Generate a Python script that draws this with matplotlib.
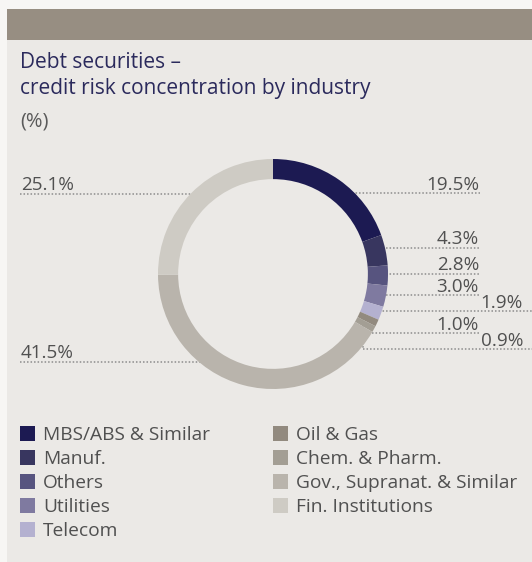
import matplotlib.pyplot as plt
from matplotlib.patches import Rectangle

plt.rcParams['font.family'] = ['Open Sans', 'DejaVu Sans']

W, H = 532, 562

industries = ['MBS/ABS & Similar', 'Manuf.', 'Others', 'Utilities', 'Telecom',
              'Oil & Gas', 'Chem. & Pharm.', 'Gov., Supranat. & Similar', 'Fin. Institutions']
shares = [19.5, 4.3, 2.8, 3.0, 1.9, 1.0, 0.9, 41.5, 25.1]
colors = ['#1c1a52', '#38365f', '#57547f', '#7f7aa0', '#b4b1d0',
          '#928a7f', '#a39e94', '#b9b4ac', '#cecbc4']

panel_bg = '#ebe9e6'
text_grey = '#505050'
dot_grey = '#8c8c8c'

fig = plt.figure(figsize=(W / 100, H / 100), dpi=100)
fig.patch.set_facecolor('#f7f6f4')

# full-figure overlay in pixel units (y grows downward)
bg = fig.add_axes([0, 0, 1, 1])
bg.set_xlim(0, W)
bg.set_ylim(H, 0)
bg.axis('off')
bg.add_patch(Rectangle((7, 9), W - 7, H - 9, color=panel_bg, lw=0, zorder=0))
bg.add_patch(Rectangle((7, 9), W - 7, 31, color='#978e82', lw=0, zorder=1))

bg.text(20, 68, 'Debt securities \u2013', fontsize=15, color='#2b2a5c', va='baseline')
bg.text(20, 94, 'credit risk concentration by industry', fontsize=15,
        color='#2b2a5c', va='baseline')
bg.text(20, 126, '(%)', fontsize=14.5, color='#5a5a5a', va='baseline')

# donut: centre (273, 274) px, outer radius 115 px
cx, cy, R = 273, 274, 115
pie_ax = fig.add_axes([(cx - R) / W, (H - cy - R) / H, 2 * R / W, 2 * R / H])
pie_ax.pie(shares, colors=colors, startangle=90, counterclock=False,
           wedgeprops=dict(width=0.175, linewidth=0))
pie_ax.set_xlim(-1, 1)
pie_ax.set_ylim(-1, 1)
pie_ax.axis('off')

dot = dict(color=dot_grey, lw=1.1, linestyle=(0, (1, 1.3)), zorder=5)
lbl = dict(fontsize=13.6, color=text_grey, va='baseline')

# (value index, line x0, line x1, line y, text right edge)
right_labels = [
    (0, 345, 480, 193, 479),
    (1, 379, 480, 248, 479),
    (2, 379, 480, 274, 479),
    (3, 379, 480, 295, 479),
    (4, 372, 532, 311, 523),
    (5, 372, 480, 333, 479),
    (6, 363, 532, 349, 523),
]
for i, x0, x1, y, tx in right_labels:
    bg.plot([x0, x1], [y, y], **dot)
    bg.text(tx, y - 3.5, f'{shares[i]:.1f}%', ha='right', **lbl)
bg.plot([363, 363], [318, 349], **dot)

left_labels = [(8, 195, 194), (7, 217, 362)]
for i, x1, y in left_labels:
    bg.plot([20, x1], [y, y], **dot)
    bg.text(21, y - 3.5, f'{shares[i]:.1f}%', ha='left', **lbl)

# legend, two columns
for k, (name, c) in enumerate(zip(industries, colors)):
    col, row = (0, k) if k < 5 else (1, k - 5)
    x = 20 if col == 0 else 273
    y = 426 + row * 24
    bg.add_patch(Rectangle((x, y), 15, 15, color=c, lw=0, zorder=3))
    bg.text(x + 23, y + 14, name, fontsize=13.8, color=text_grey, va='baseline')

fig.savefig('out.png', dpi=100, facecolor=fig.get_facecolor())
